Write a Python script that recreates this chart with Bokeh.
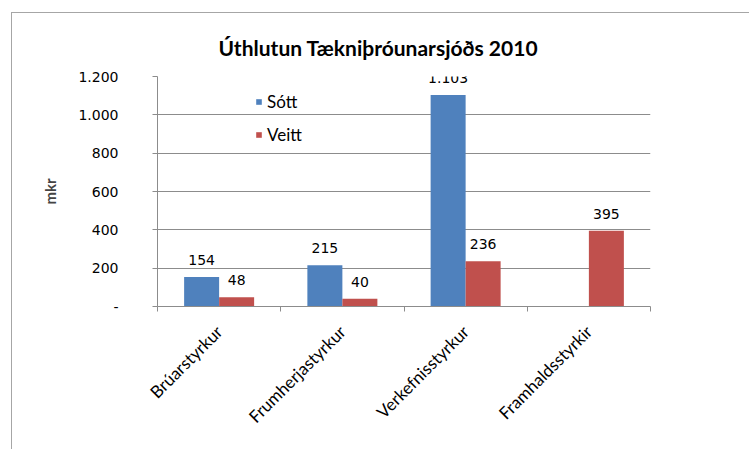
from math import pi
from bokeh.plotting import figure
from bokeh.layouts import column
from bokeh.models import (Range1d, FixedTicker, ColumnDataSource, LabelSet, Legend, LegendItem, Div)
from bokeh.core.properties import value
from bokeh.embed import file_html
from bokeh.resources import INLINE

title_text = "Úthlutun Tækniþróunarsjóðs 2010"
categories = ["Brúarstyrkur", "Frumherjastyrkur", "Verkefnisstyrkur", "Framhaldsstyrkir"]
sott = [154, 215, 1103, None]
veitt = [48, 40, 236, 395]
y_ticks = [0, 200, 400, 600, 800, 1000, 1200]
y_tick_labels = ["-", "200", "400", "600", "800", "1.000", "1.200"]
series_names = ["Sótt", "Veitt"]
colors = ["#4F81BD", "#C0504D"]
y_label = "mkr"

bar_w = 0.284
grid_col = "#8c8c8c"
border_col = "#a6a6a6"


def fmt(v):
    return f"{v:,}".replace(",", ".")


p = figure(width=737, height=436, output_backend="svg", toolbar_location=None,
           x_range=Range1d(0, len(categories)), y_range=Range1d(0, 1200),
           min_border_left=145, min_border_right=99, min_border_top=63,
           min_border_bottom=143)
p.margin = 0
p.styles = {"border-left": f"1px solid {border_col}"}
p.outline_line_color = None
p.background_fill_color = "white"

p.title.text = title_text
p.title.text_font = "Lato"
p.title.text_font_size = "21px"
p.title.text_font_style = "bold"
p.title.align = "left"
p.title.offset = 61
p.title.standoff = 33
p.title.text_color = "#000000"

renderers = []
for k, (vals, col) in enumerate(zip([sott, veitt], colors)):
    xs, tops, texts = [], [], []
    for i, v in enumerate(vals):
        if v is None:
            continue
        xs.append(i + 0.5 + (k - 0.5) * bar_w)
        tops.append(v)
        texts.append(fmt(v))
    src = ColumnDataSource(dict(x=xs, top=tops, text=texts))
    r = p.vbar(x="x", top="top", width=bar_w, bottom=0, source=src,
               fill_color=col, line_color=None)
    renderers.append(r)
    labels = LabelSet(x="x", y="top", text="text", source=src,
                      text_align="center", text_baseline="alphabetic", y_offset=12,
                      text_font=value("DejaVu Sans"), text_font_size=value("14px"),
                      text_color="#000000")
    p.add_layout(labels)

# axes
p.xaxis.ticker = FixedTicker(ticks=[i + 0.5 for i in range(len(categories))],
                             minor_ticks=list(range(len(categories) + 1)))
p.xaxis.major_label_overrides = {i + 0.5: c for i, c in enumerate(categories)}
p.xaxis.major_label_orientation = pi / 4
p.xaxis.major_tick_out = 0
p.xaxis.major_tick_in = 0
p.xaxis.minor_tick_out = 5
p.xaxis.minor_tick_in = 0
p.xaxis.minor_tick_line_color = grid_col
p.xaxis.axis_line_color = grid_col
p.xaxis.major_label_text_font = "Lato"
p.xaxis.major_label_text_font_size = "17px"
p.xaxis.major_label_text_color = "#000000"
p.xaxis.major_label_standoff = 17

p.yaxis.ticker = FixedTicker(ticks=y_ticks, minor_ticks=[])
p.yaxis.major_label_overrides = {t: l for t, l in zip(y_ticks, y_tick_labels)}
p.yaxis.major_tick_out = 5
p.yaxis.major_tick_in = 0
p.yaxis.major_tick_line_color = grid_col
p.yaxis.axis_line_color = grid_col
p.yaxis.major_label_text_font = "DejaVu Sans"
p.yaxis.major_label_text_font_size = "14px"
p.yaxis.major_label_text_color = "#000000"
p.yaxis.major_label_standoff = 34
p.yaxis.axis_label = y_label
p.yaxis.axis_label_text_font = "Lato"
p.yaxis.axis_label_text_font_size = "15px"
p.yaxis.axis_label_text_font_style = "bold"
p.yaxis.axis_label_standoff = 16

p.xgrid.grid_line_color = None
p.ygrid.grid_line_color = grid_col
p.ygrid.grid_line_width = 1

legend = Legend(items=[LegendItem(label=n, renderers=[r]) for n, r in zip(series_names, renderers)],
                location=(98, 161), orientation="vertical",
                glyph_width=7, glyph_height=7, label_standoff=5, label_height=20,
                spacing=12, padding=0, margin=0,
                border_line_color=None, background_fill_alpha=0,
                label_text_font="Lato", label_text_font_size="17px", label_text_color="#000000")
p.add_layout(legend)

top_line = Div(text="", width=738, height=1, margin=0,
               styles={"background-color": border_col})
root = column(top_line, p, spacing=0, margin=(12, 0, 0, 11))

open("out.html", "w").write(file_html(root, INLINE))
